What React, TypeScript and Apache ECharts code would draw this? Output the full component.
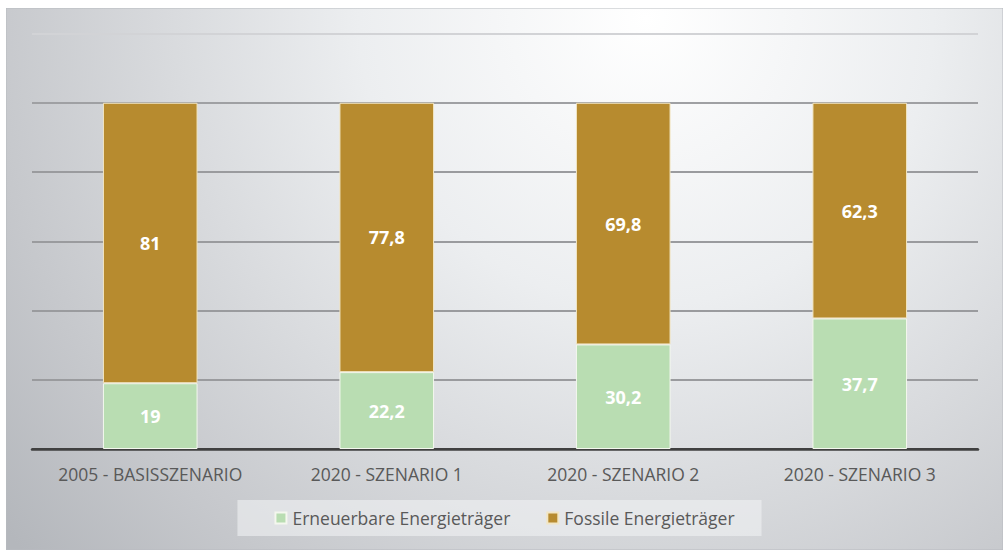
import React, { useEffect, useRef } from "react";
import * as echarts from "echarts";

const categories = [
  "2005 - BASISSZENARIO",
  "2020 - SZENARIO 1",
  "2020 - SZENARIO 2",
  "2020 - SZENARIO 3",
];
const renewable = [19, 22.2, 30.2, 37.7];
const fossil = [81, 77.8, 69.8, 62.3];
const seriesNames = ["Erneuerbare Energieträger", "Fossile Energieträger"];

const W = 997;
const H = 542;
const FONT = "'Open Sans', sans-serif";

const fmt = (v: number) => String(v).replace(".", ",");

export default function App() {
  const ref = useRef<HTMLDivElement>(null);

  useEffect(() => {
    if (!ref.current) return;
    const chart = echarts.init(ref.current, undefined, { renderer: "svg" });

    const label = {
      show: true,
      position: "inside" as const,
      color: "#ffffff",
      fontFamily: FONT,
      fontWeight: "bold" as const,
      fontSize: 18,
      formatter: (p: any) => fmt(p.value),
    };

    chart.setOption({
      animation: false,
      graphic: [
        {
          type: "rect",
          z: -10,
          silent: true,
          shape: { x: 0, y: 0, width: W, height: H },
          style: {
            fill: new echarts.graphic.RadialGradient(
              640,
              10,
              820,
              [
                { offset: 0, color: "#ffffff" },
                { offset: 0.35, color: "#eceef0" },
                { offset: 0.8, color: "#c6c8cc" },
                { offset: 1, color: "#b4b7bc" },
              ],
              true
            ),
            stroke: "#b8bbc0",
            lineWidth: 1,
          },
        },
      ],
      grid: { left: 26, right: 25, top: 25.5, bottom: 101, containLabel: false },
      legend: {
        data: seriesNames,
        bottom: 14,
        left: "center",
        itemWidth: 11,
        itemHeight: 11,
        itemGap: 36,
        padding: [9, 27, 9, 37],
        backgroundColor: "rgba(240,241,243,0.6)",
        icon: "rect",
        textStyle: { fontFamily: FONT, fontSize: 17.5, color: "#595959", padding: [0, 0, 0, 1] },
      },
      xAxis: {
        type: "category",
        data: categories,
        axisLine: { show: true, lineStyle: { color: "#404040", width: 2.5 } },
        axisTick: { show: false },
        axisLabel: {
          interval: 0,
          color: "#595959",
          fontFamily: FONT,
          fontSize: 17.5,
          margin: 16,
        },
      },
      yAxis: {
        type: "value",
        min: 0,
        max: 120,
        interval: 20,
        axisLabel: { show: false },
        axisLine: { show: false },
        axisTick: { show: false },
        splitLine: {
          show: true,
          lineStyle: {
            color: ["#404040", "#9a9b9e", "#9a9b9e", "#9a9b9e", "#9a9b9e", "#9fa0a3", "#d2d3d6"],
            width: 2,
          },
        },
      },
      series: [
        {
          name: seriesNames[0],
          type: "bar",
          stack: "total",
          barWidth: "40%",
          data: renewable,
          itemStyle: { color: "#b9ddb2", borderColor: "#f4f7ee", borderWidth: 1 },
          label,
        },
        {
          name: seriesNames[1],
          type: "bar",
          stack: "total",
          barWidth: "40%",
          data: fossil,
          itemStyle: { color: "#b78b2f", borderColor: "#f2e6c4", borderWidth: 1 },
          label,
        },
      ],
    });

    return () => chart.dispose();
  }, []);

  return (
    <div
      ref={ref}
      style={{ position: "absolute", left: 6, top: 8, width: W, height: H }}
    />
  );
}
